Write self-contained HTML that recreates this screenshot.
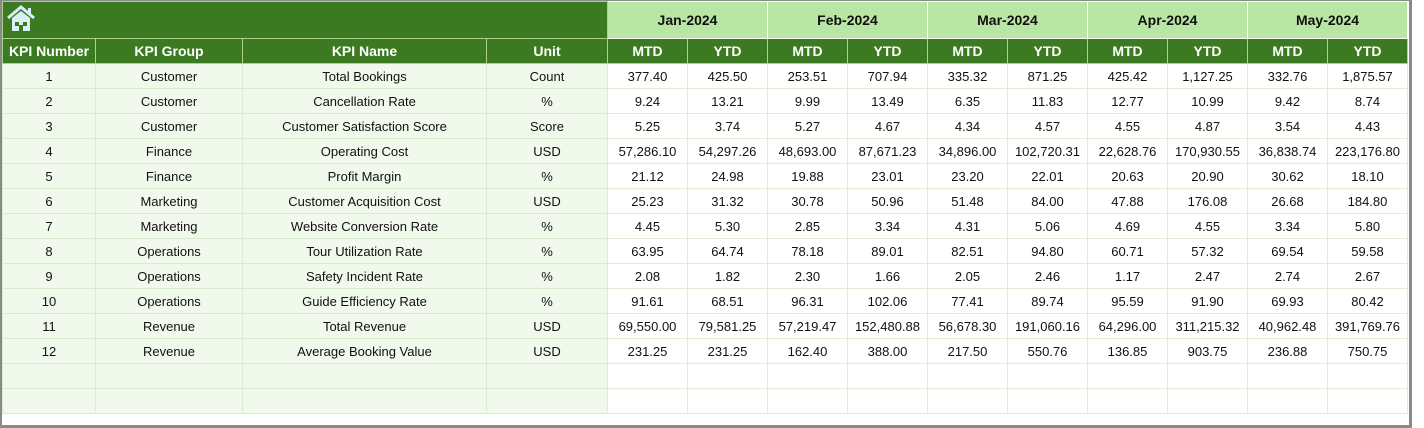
<!DOCTYPE html>
<html><head><meta charset="utf-8"><style>
body{margin:0;width:1424px;height:428px;background:#fff;overflow:hidden;font-family:"Liberation Sans",sans-serif}
#frame{position:absolute;left:0;top:0;width:1407px;height:424px;border-left:2px solid #8a8a8a;border-right:3px solid #8a8a8a;border-bottom:3px solid #8a8a8a;border-top:1px solid #8a8a8a}
table{position:absolute;left:2px;top:1px;border-collapse:collapse;table-layout:fixed}
td{padding:0;text-align:center;font-size:13px;color:#111;border:1px solid #d9ecd0;height:24px;white-space:nowrap;overflow:hidden}
.h1 td{height:36px}
.dg{background:#3b7a21;color:#fff;font-weight:bold;font-size:14px;border-color:#a9d18e}
.lg{background:#b8e6a5;color:#111;font-weight:bold;font-size:14px;border-color:#ffffff}
.l{background:#f1f9ec}
.r{background:#fff;border-color:#e0ecd8}
</style></head><body>
<div id="frame"></div>
<table>
<colgroup><col style="width:93px"><col style="width:147px"><col style="width:244px"><col style="width:121px">
<col style="width:80px"><col style="width:80px"><col style="width:80px"><col style="width:80px"><col style="width:80px"><col style="width:80px"><col style="width:80px"><col style="width:80px"><col style="width:80px"><col style="width:80px"></colgroup>
<tr class="h1"><td class="dg" colspan="4" style="text-align:left;padding-left:3px">
<svg width="30" height="28" viewBox="0 0 30 28"><path d="M2 13 L15 2 L28 13" fill="none" stroke="#d6f0f5" stroke-width="3"/><path d="M6 13 L15 6 L24 13 V26 H6Z" fill="#d6f0f5"/><rect x="22" y="3" width="3" height="7" fill="#d6f0f5"/><rect x="9" y="17" width="4" height="4" fill="#3b7a21"/><rect x="17" y="17" width="4" height="4" fill="#3b7a21"/><rect x="13" y="20" width="4" height="6" fill="#3b7a21"/></svg></td>
<td class="lg" colspan="2">Jan-2024</td><td class="lg" colspan="2">Feb-2024</td><td class="lg" colspan="2">Mar-2024</td><td class="lg" colspan="2">Apr-2024</td><td class="lg" colspan="2">May-2024</td></tr>
<tr><td class="dg">KPI Number</td><td class="dg">KPI Group</td><td class="dg">KPI Name</td><td class="dg">Unit</td>
<td class="dg">MTD</td><td class="dg">YTD</td><td class="dg">MTD</td><td class="dg">YTD</td><td class="dg">MTD</td><td class="dg">YTD</td><td class="dg">MTD</td><td class="dg">YTD</td><td class="dg">MTD</td><td class="dg">YTD</td></tr>
<tr><td class="l">1</td><td class="l">Customer</td><td class="l">Total Bookings</td><td class="l">Count</td><td class="r">377.40</td><td class="r">425.50</td><td class="r">253.51</td><td class="r">707.94</td><td class="r">335.32</td><td class="r">871.25</td><td class="r">425.42</td><td class="r">1,127.25</td><td class="r">332.76</td><td class="r">1,875.57</td></tr>
<tr><td class="l">2</td><td class="l">Customer</td><td class="l">Cancellation Rate</td><td class="l">%</td><td class="r">9.24</td><td class="r">13.21</td><td class="r">9.99</td><td class="r">13.49</td><td class="r">6.35</td><td class="r">11.83</td><td class="r">12.77</td><td class="r">10.99</td><td class="r">9.42</td><td class="r">8.74</td></tr>
<tr><td class="l">3</td><td class="l">Customer</td><td class="l">Customer Satisfaction Score</td><td class="l">Score</td><td class="r">5.25</td><td class="r">3.74</td><td class="r">5.27</td><td class="r">4.67</td><td class="r">4.34</td><td class="r">4.57</td><td class="r">4.55</td><td class="r">4.87</td><td class="r">3.54</td><td class="r">4.43</td></tr>
<tr><td class="l">4</td><td class="l">Finance</td><td class="l">Operating Cost</td><td class="l">USD</td><td class="r">57,286.10</td><td class="r">54,297.26</td><td class="r">48,693.00</td><td class="r">87,671.23</td><td class="r">34,896.00</td><td class="r">102,720.31</td><td class="r">22,628.76</td><td class="r">170,930.55</td><td class="r">36,838.74</td><td class="r">223,176.80</td></tr>
<tr><td class="l">5</td><td class="l">Finance</td><td class="l">Profit Margin</td><td class="l">%</td><td class="r">21.12</td><td class="r">24.98</td><td class="r">19.88</td><td class="r">23.01</td><td class="r">23.20</td><td class="r">22.01</td><td class="r">20.63</td><td class="r">20.90</td><td class="r">30.62</td><td class="r">18.10</td></tr>
<tr><td class="l">6</td><td class="l">Marketing</td><td class="l">Customer Acquisition Cost</td><td class="l">USD</td><td class="r">25.23</td><td class="r">31.32</td><td class="r">30.78</td><td class="r">50.96</td><td class="r">51.48</td><td class="r">84.00</td><td class="r">47.88</td><td class="r">176.08</td><td class="r">26.68</td><td class="r">184.80</td></tr>
<tr><td class="l">7</td><td class="l">Marketing</td><td class="l">Website Conversion Rate</td><td class="l">%</td><td class="r">4.45</td><td class="r">5.30</td><td class="r">2.85</td><td class="r">3.34</td><td class="r">4.31</td><td class="r">5.06</td><td class="r">4.69</td><td class="r">4.55</td><td class="r">3.34</td><td class="r">5.80</td></tr>
<tr><td class="l">8</td><td class="l">Operations</td><td class="l">Tour Utilization Rate</td><td class="l">%</td><td class="r">63.95</td><td class="r">64.74</td><td class="r">78.18</td><td class="r">89.01</td><td class="r">82.51</td><td class="r">94.80</td><td class="r">60.71</td><td class="r">57.32</td><td class="r">69.54</td><td class="r">59.58</td></tr>
<tr><td class="l">9</td><td class="l">Operations</td><td class="l">Safety Incident Rate</td><td class="l">%</td><td class="r">2.08</td><td class="r">1.82</td><td class="r">2.30</td><td class="r">1.66</td><td class="r">2.05</td><td class="r">2.46</td><td class="r">1.17</td><td class="r">2.47</td><td class="r">2.74</td><td class="r">2.67</td></tr>
<tr><td class="l">10</td><td class="l">Operations</td><td class="l">Guide Efficiency Rate</td><td class="l">%</td><td class="r">91.61</td><td class="r">68.51</td><td class="r">96.31</td><td class="r">102.06</td><td class="r">77.41</td><td class="r">89.74</td><td class="r">95.59</td><td class="r">91.90</td><td class="r">69.93</td><td class="r">80.42</td></tr>
<tr><td class="l">11</td><td class="l">Revenue</td><td class="l">Total Revenue</td><td class="l">USD</td><td class="r">69,550.00</td><td class="r">79,581.25</td><td class="r">57,219.47</td><td class="r">152,480.88</td><td class="r">56,678.30</td><td class="r">191,060.16</td><td class="r">64,296.00</td><td class="r">311,215.32</td><td class="r">40,962.48</td><td class="r">391,769.76</td></tr>
<tr><td class="l">12</td><td class="l">Revenue</td><td class="l">Average Booking Value</td><td class="l">USD</td><td class="r">231.25</td><td class="r">231.25</td><td class="r">162.40</td><td class="r">388.00</td><td class="r">217.50</td><td class="r">550.76</td><td class="r">136.85</td><td class="r">903.75</td><td class="r">236.88</td><td class="r">750.75</td></tr>
<tr><td class="l"></td><td class="l"></td><td class="l"></td><td class="l"></td><td class="r"></td><td class="r"></td><td class="r"></td><td class="r"></td><td class="r"></td><td class="r"></td><td class="r"></td><td class="r"></td><td class="r"></td><td class="r"></td></tr>
<tr><td class="l"></td><td class="l"></td><td class="l"></td><td class="l"></td><td class="r"></td><td class="r"></td><td class="r"></td><td class="r"></td><td class="r"></td><td class="r"></td><td class="r"></td><td class="r"></td><td class="r"></td><td class="r"></td></tr>
</table>
</body></html>
